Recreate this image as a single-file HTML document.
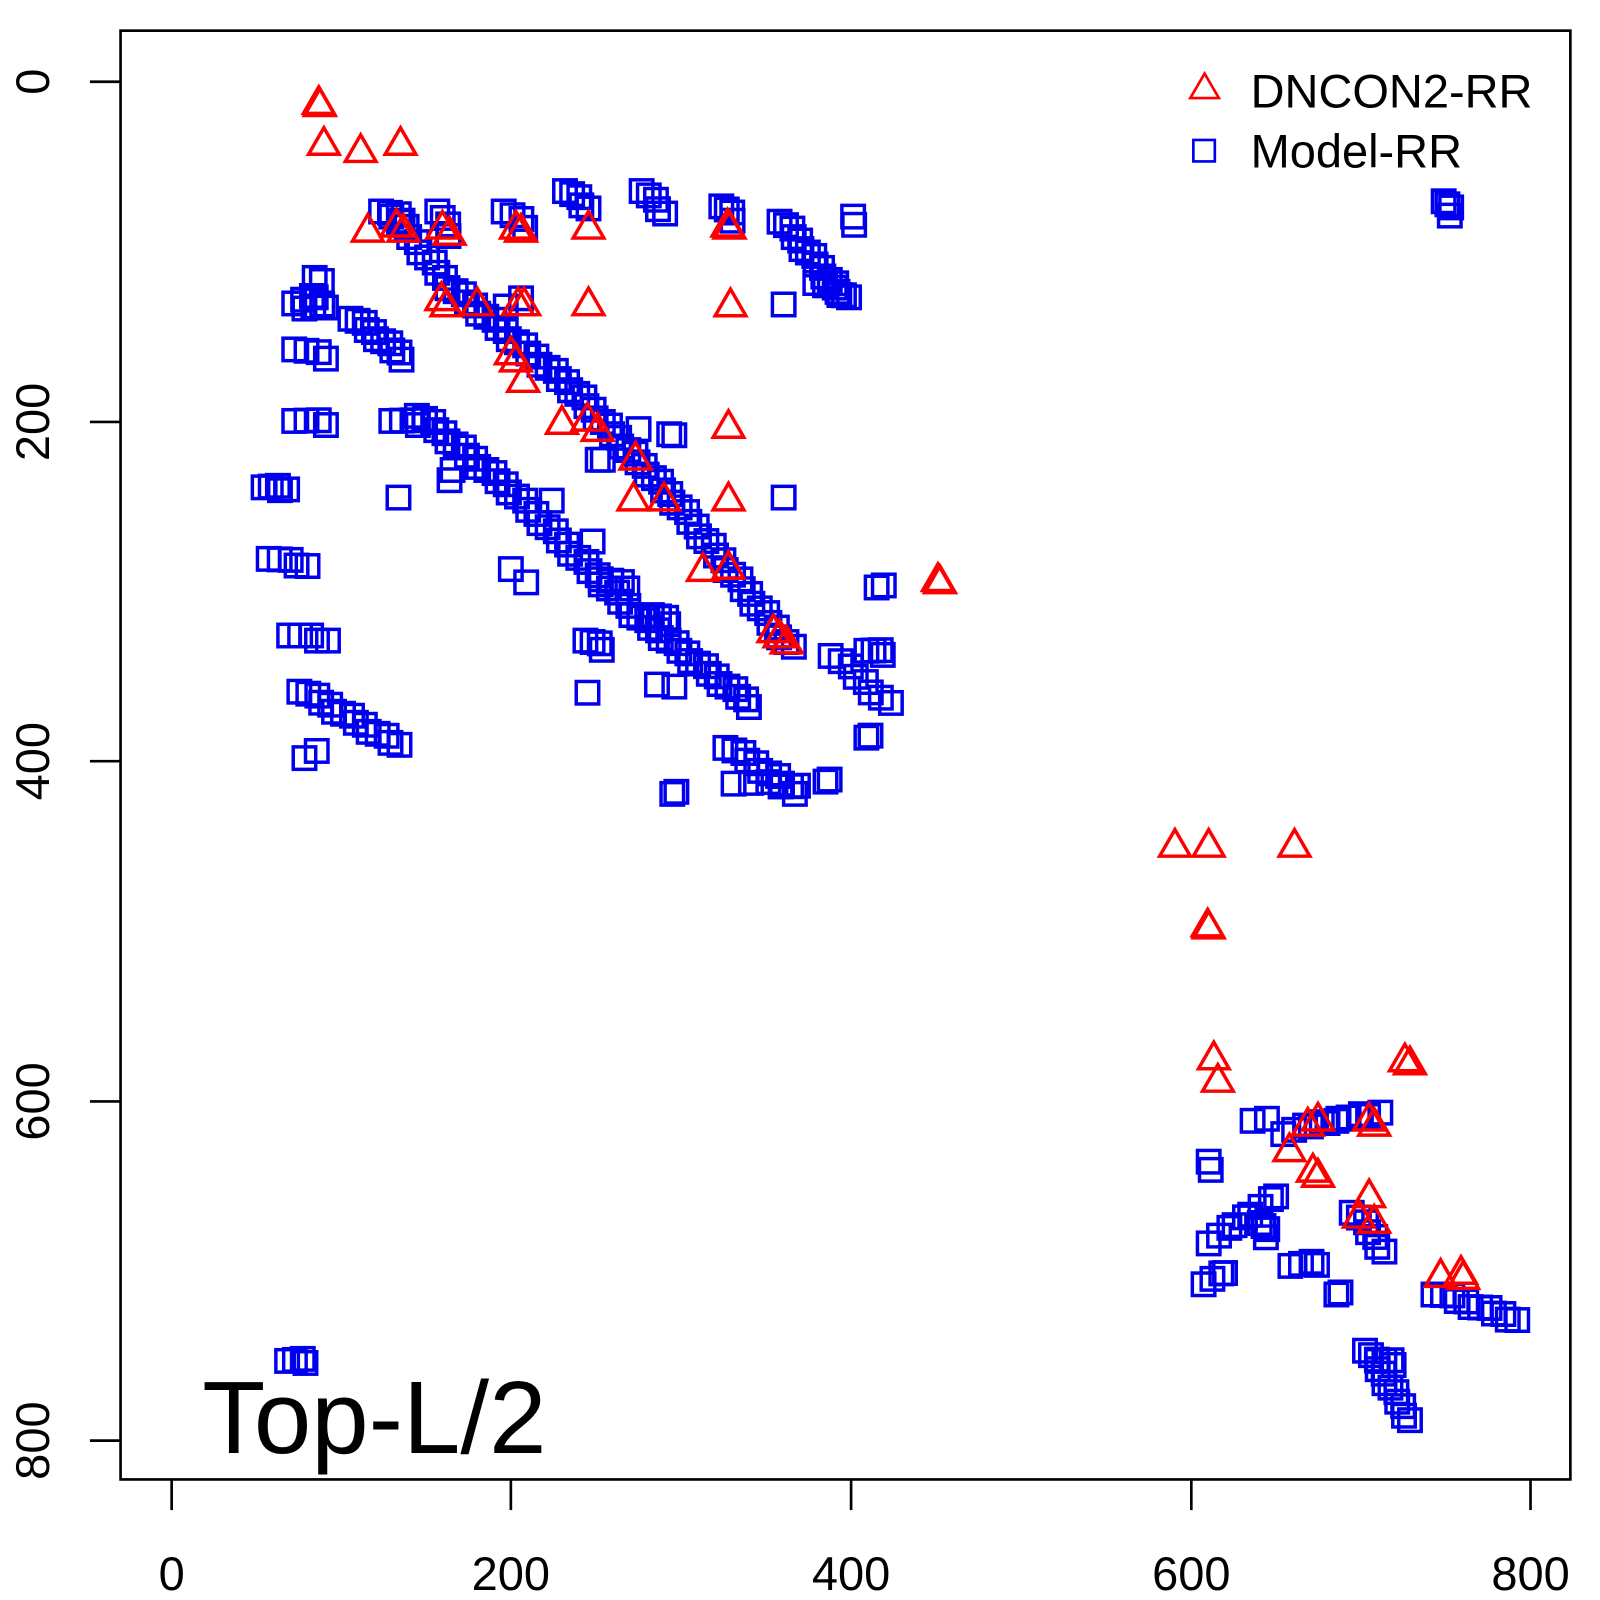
<!DOCTYPE html>
<html><head><style>html,body{margin:0;padding:0;background:#fff}svg{display:block}</style></head>
<body>
<svg id="s" width="1600" height="1600" viewBox="0 0 1566 1566" xmlns="http://www.w3.org/2000/svg" font-family="Liberation Sans, sans-serif">
<rect x="0" y="0" width="1566" height="1566" fill="#fff"/>
<g id="sq" fill="none" stroke="#0000ee" stroke-width="3.4"></g>
<g id="tr" fill="none" stroke="#ff0000" stroke-width="3.4"></g>
<rect x="118" y="30" width="1419" height="1418" fill="none" stroke="#000" stroke-width="2.6"/>
<g stroke="#000" stroke-width="2.6">
<line x1="168" y1="1448" x2="168" y2="1478"/><line x1="500" y1="1448" x2="500" y2="1478"/><line x1="833" y1="1448" x2="833" y2="1478"/><line x1="1166" y1="1448" x2="1166" y2="1478"/><line x1="1498" y1="1448" x2="1498" y2="1478"/>
<line x1="118" y1="80" x2="88" y2="80"/><line x1="118" y1="413" x2="88" y2="413"/><line x1="118" y1="745" x2="88" y2="745"/><line x1="118" y1="1078" x2="88" y2="1078"/><line x1="118" y1="1410" x2="88" y2="1410"/>
</g>
<g font-size="46" text-anchor="middle" fill="#000">
<text x="168" y="1556">0</text><text x="500" y="1556">200</text><text x="833" y="1556">400</text><text x="1166" y="1556">600</text><text x="1498" y="1556">800</text>
<text transform="translate(48,80) rotate(-90)">0</text>
<text transform="translate(48,413) rotate(-90)">200</text>
<text transform="translate(48,745) rotate(-90)">400</text>
<text transform="translate(48,1078) rotate(-90)">600</text>
<text transform="translate(48,1410) rotate(-90)">800</text>
</g>
<text x="198" y="1422" font-size="101" fill="#000">Top-L/2</text>
<polygon points="1179,72 1193,96 1165,96" fill="none" stroke="#ff0000" stroke-width="2.6"/>
<text x="1224" y="105" font-size="46" fill="#000">DNCON2-RR</text>
<rect x="1168" y="137" width="21" height="21" fill="none" stroke="#0000ee" stroke-width="2.6"/>
<text x="1224" y="164" font-size="46" fill="#000">Model-RR</text>
</svg>
<script>
var NS="http://www.w3.org/2000/svg";
var sq=document.getElementById("sq"),tr=document.getElementById("tr");
function S(x,y){var r=document.createElementNS(NS,"rect");r.setAttribute("x",x-11);r.setAttribute("y",y-11);r.setAttribute("width",22);r.setAttribute("height",22);sq.appendChild(r);}
function T(x,y){var p=document.createElementNS(NS,"polygon");p.setAttribute("points",x+","+(y-15)+" "+(x+15)+","+(y+11)+" "+(x-15)+","+(y+11));tr.appendChild(p);}
function L(x1,y1,x2,y2,n){n=Math.max(1,Math.round(n*1.4));for(var i=0;i<=n;i++){var j=((i*7)%5)-2;S(x1+(x2-x1)*i/n+j,y1+(y2-y1)*i/n-j);}}
// squares
L(385,210,440,280,7);L(440,280,560,380,14);L(560,380,660,490,14);L(660,490,775,635,16);
L(410,405,500,480,11);L(500,480,620,600,14);L(620,600,735,690,14);
L(765,215,825,290,10);L(800,275,830,292,3);
L(300,300,320,300,2);L(290,295,310,290,2);L(310,270,315,275,1);
L(345,310,395,350,7);
L(260,475,280,480,3);L(265,545,300,555,3);L(285,620,320,628,3);
L(295,675,390,730,10);L(300,740,310,735,1);
L(555,185,575,205,3);L(630,185,650,210,3);L(708,200,718,215,2);L(838,218,835,212,1);
L(495,205,515,222,2);L(430,205,440,230,2);L(375,205,395,215,2);
L(290,340,320,350,2);L(290,410,320,415,2);L(385,410,410,415,2);
L(590,565,615,575,2);L(640,600,655,610,2);L(575,625,590,635,2);L(645,668,660,672,1);
L(712,730,780,775,7);L(720,765,780,770,3);L(660,775,662,775,1);L(810,763,812,763,1);
L(815,640,870,690,5);L(850,635,865,640,2);L(850,720,852,720,1);L(860,573,865,573,1);
S(767,298);S(767,487);S(390,487);S(500,557);S(515,570);S(575,678);S(655,425);S(660,426);S(585,450);
S(540,490);S(580,530);S(590,450);S(625,420);S(495,300);S(510,292);S(443,460);S(440,470);
L(1228,1095,1240,1095,1);L(1258,1108,1310,1095,4);L(1310,1095,1350,1090,3);
L(1185,1135,1185,1145,1);L(1185,1215,1250,1170,6);L(1180,1255,1200,1245,2);
L(1265,1237,1290,1237,2);L(1310,1265,1312,1265,1);L(1235,1195,1240,1210,2);
L(1325,1185,1355,1225,4);L(1405,1265,1485,1292,8);
L(1338,1320,1380,1390,8);L(1350,1330,1365,1335,2);L(1415,195,1420,210,2);L(283,1330,300,1333,2);
// triangles
[[312,100],[313,102],[317,140],[353,147],[392,140],[360,225],[388,220],[395,225],[433,222],[440,228],[505,222],[510,225],[576,222],[712,220],[714,222],[432,292],[437,298],[467,297],[507,297],[513,297],[576,297],[715,298],[500,345],[505,352],[512,372],[550,413],[575,410],[585,420],[713,417],[622,448],[620,488],[650,488],[713,488],[688,557],[713,555],[918,567],[920,569],[757,617],[763,622],[770,628],[1150,827],[1183,827],[1267,827],[1182,905],[1183,907],[1188,1035],[1192,1057],[1375,1037],[1380,1040],[1262,1125],[1280,1100],[1290,1095],[1285,1145],[1290,1150],[1340,1095],[1345,1100],[1340,1170],[1330,1190],[1345,1195],[1410,1248],[1430,1245],[1432,1250]].forEach(function(p){T(p[0],p[1]);});
</script>
</body></html>
